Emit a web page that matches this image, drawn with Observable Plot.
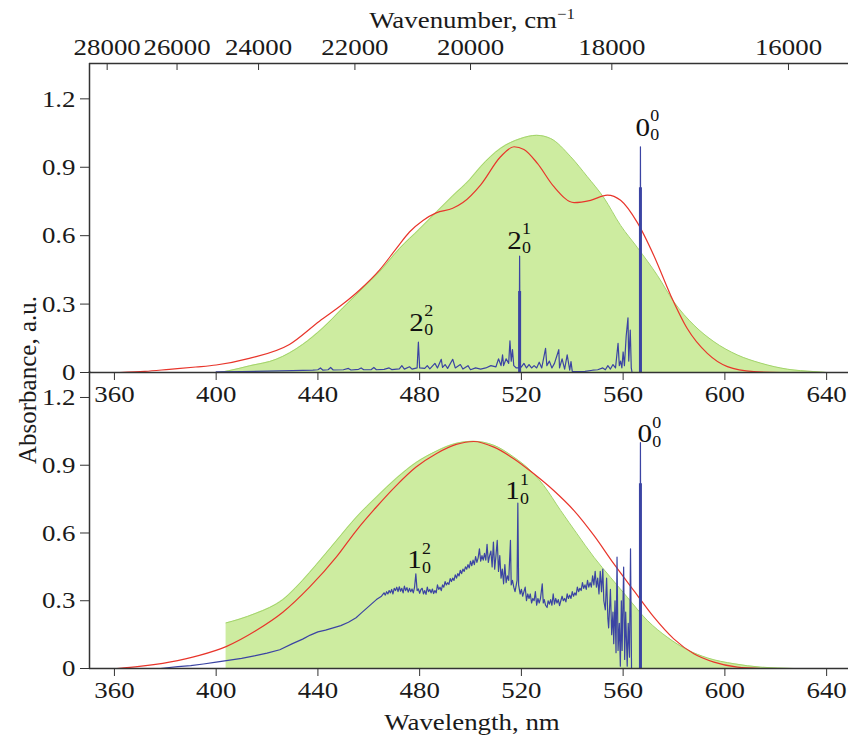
<!DOCTYPE html>
<html><head><meta charset="utf-8">
<script src="https://cdn.jsdelivr.net/npm/d3@7"></script>
<script src="https://cdn.jsdelivr.net/npm/@observablehq/plot@0.6"></script>
<style>
body{margin:0;background:#fff;}
#wrap{position:relative;width:850px;height:738px;font-family:"Liberation Serif","Times New Roman",serif;color:#1a1a1a;overflow:hidden;}
#wrap svg{position:absolute;left:0;}
.ttl{position:absolute;font-size:24px;white-space:nowrap;line-height:1;}
.ttl.v{font-size:25px;}
.ttl sup{font-size:15px;vertical-align:9px;line-height:0;}
</style></head><body><div id="wrap"></div>
<script>
// ---- tick labels ----
const wavelengthTicks = [360, 400, 440, 480, 520, 560, 600, 640];
const wavenumberTicks = [28000, 26000, 24000, 22000, 20000, 18000, 16000];
const absTicks = [0, 0.3, 0.6, 0.9, 1.2];

// ---- top panel: [wavelength nm, absorbance] ----
const topGreen = [[401,0],[405,0.008],[413,0.029],[423.6,0.058],[434,0.123],[442,0.196],[449.8,0.283],[457.7,0.37],[464.2,0.442],[472,0.543],[480,0.63],[486.5,0.703],[493,0.775],[499.6,0.845],[504,0.903],[511.8,0.983],[519.7,1.026],[526,1.04],[531.5,1.026],[539.4,0.946],[545.9,0.859],[552.5,0.765],[559,0.645],[565.6,0.548],[573.5,0.425],[580,0.309],[587.9,0.207],[595.7,0.135],[604.9,0.077],[614.1,0.041],[624.6,0.0145],[635,0.004],[640,0]];
const topRed = [[362,0],[372,0.005],[381.6,0.014],[392,0.024],[400,0.033],[413,0.062],[428.8,0.123],[440.6,0.225],[449.8,0.30],[456.4,0.362],[464.2,0.449],[470.8,0.543],[476,0.616],[481.3,0.667],[486.5,0.70],[493,0.72],[497,0.745],[504,0.823],[511.8,0.946],[517.1,0.99],[521,0.978],[526.3,0.917],[532.7,0.816],[540.7,0.745],[547.2,0.755],[553.8,0.778],[559,0.755],[565.6,0.657],[572.1,0.512],[578.7,0.338],[585.2,0.193],[593.1,0.084],[601,0.026],[611.4,0.004],[622,0]];
const topBlue = [[400,0.003],[410,0.004],[420,0.006],[430,0.008],[438,0.01],[440,0.012],[441,0.02],[442,0.01],[444,0.012],[445,0.022],[446,0.011],[450,0.012],[452,0.018],[453,0.011],[456,0.014],[457,0.02],[458,0.012],[461,0.013],[462,0.022],[463,0.012],[466,0.014],[468,0.02],[469,0.013],[472,0.016],[473,0.03],[474,0.015],[476,0.025],[477,0.015],[479,0.02],[479.5,0.133],[480,0.02],[482,0.018],[483,0.03],[484,0.016],[486,0.04],[487,0.02],[488.5,0.058],[489,0.022],[490,0.035],[491,0.018],[493,0.058],[494,0.02],[496,0.035],[497,0.015],[499,0.03],[500,0.012],[502,0.02],[504,0.015],[506,0.02],[508,0.03],[510,0.025],[511,0.06],[512,0.03],[512.6,0.077],[513,0.03],[514,0.06],[515,0.04],[515.5,0.139],[516,0.05],[516.5,0.1],[517,0.03],[518,0.02],[519.1,0.02],[519.3,0.51],[519.5,0.02],[520,0.025],[521,0.04],[522,0.02],[523,0.035],[524,0.02],[525,0.03],[526,0.02],[527,0.045],[528,0.02],[529.5,0.106],[530,0.03],[531,0.05],[532,0.02],[533,0.04],[534.7,0.1],[535,0.02],[536,0.06],[537,0.015],[538,0.077],[539,0.01],[539.5,0.048],[540,0.005],[542,0.004],[545,0.005],[548,0.01],[550,0.012],[552,0.02],[553,0.012],[554,0.03],[555,0.015],[556,0.035],[557,0.02],[558,0.128],[558.5,0.03],[559,0.05],[559.5,0.02],[560,0.09],[560.5,0.03],[561.2,0.16],[561.9,0.24],[562.2,0.05],[562.8,0.186],[563.2,0.02],[563.5,0],[566.6,0],[566.8,0.99],[567,0],[570,0]];
const topThick = [[519.3,0.355],[566.8,0.81]];
const topLabels = [
  {x: 567.7, y: 1.075, main: "0", sub: "0", sup: "0"},
  {x: 517.3, y: 0.58, main: "2", sub: "0", sup: "1"},
  {x: 478.8, y: 0.22, main: "2", sub: "0", sup: "2"}
];

// ---- bottom panel ----
const bottomGreen = [[403.9,0.202],[409,0.218],[415.7,0.245],[421,0.27],[426.2,0.305],[431,0.355],[436.7,0.425],[442,0.495],[447.2,0.565],[455.1,0.67],[462.9,0.758],[470.8,0.842],[478.6,0.912],[486.5,0.962],[494.4,0.997],[501,1.006],[509.2,0.988],[517,0.936],[524.9,0.862],[528.8,0.81],[535.4,0.70],[541.9,0.596],[548.5,0.493],[555,0.404],[561.6,0.316],[569.5,0.213],[577.3,0.139],[585.2,0.083],[593.1,0.047],[603.6,0.021],[614.1,0.006],[627,0]];
const bottomRed = [[361,0],[369.8,0.009],[381.6,0.028],[393.4,0.058],[403.9,0.097],[415.7,0.168],[426.2,0.249],[436.7,0.36],[447.2,0.493],[455.1,0.611],[462.9,0.714],[470.8,0.81],[478.6,0.892],[486.5,0.951],[494.4,0.992],[501.3,1.005],[509.2,0.98],[517,0.929],[524.9,0.862],[532.7,0.788],[540.6,0.70],[548.5,0.589],[556.3,0.464],[564.2,0.345],[572.1,0.227],[579.9,0.131],[587.8,0.065],[595.7,0.028],[604.9,0.006],[614.1,0]];
const bottomBlue = [[378,0],[385,0.008],[390,0.013],[395,0.02],[400,0.028],[404,0.035],[410,0.045],[415,0.056],[420,0.068],[425,0.083],[430,0.11],[434,0.13],[437,0.148],[440,0.162],[443,0.17],[446,0.18],[449,0.19],[452,0.205],[455,0.225],[457,0.245],[459,0.265],[461,0.285],[463,0.305],[465,0.32],[466,0.335],[466.5,0.325],[467,0.34],[467.5,0.33],[468,0.345],[468.5,0.335],[469,0.35],[469.5,0.33],[470,0.355],[470.5,0.345],[471,0.36],[471.5,0.34],[472,0.362],[472.5,0.342],[473,0.355],[473.5,0.335],[474,0.365],[474.5,0.345],[475,0.358],[475.5,0.338],[476,0.355],[476.5,0.34],[477,0.352],[477.5,0.335],[478,0.36],[478.5,0.419],[479,0.345],[479.5,0.352],[480,0.333],[480.5,0.35],[481,0.355],[481.5,0.33],[482,0.345],[482.5,0.328],[483,0.36],[483.5,0.34],[484,0.35],[484.5,0.335],[485,0.352],[485.5,0.332],[486,0.345],[486.5,0.335],[487,0.37],[487.5,0.35],[488,0.36],[488.5,0.345],[489,0.37],[489.5,0.36],[490,0.385],[490.5,0.37],[491,0.38],[491.5,0.372],[492,0.398],[492.5,0.385],[493,0.4],[493.5,0.39],[494,0.415],[494.5,0.4],[495,0.42],[495.5,0.41],[496,0.435],[496.5,0.42],[497,0.44],[497.5,0.43],[498,0.45],[498.5,0.44],[499,0.46],[499.5,0.445],[500,0.475],[500.5,0.455],[501,0.48],[501.5,0.46],[502,0.495],[502.5,0.47],[503,0.49],[503.5,0.53],[504,0.475],[504.5,0.5],[505,0.48],[505.5,0.51],[506,0.48],[506.5,0.55],[507,0.47],[507.5,0.5],[508,0.52],[508.5,0.45],[509,0.56],[509.5,0.44],[510,0.5],[510.5,0.567],[511,0.43],[511.5,0.5],[512,0.4],[512.5,0.44],[513,0.375],[513.5,0.46],[514,0.38],[514.5,0.41],[515,0.39],[515.7,0.567],[516,0.37],[516.5,0.39],[517,0.36],[517.5,0.34],[518.3,0.39],[518.6,0.732],[518.9,0.37],[519.5,0.33],[520,0.35],[520.5,0.32],[521,0.34],[521.5,0.36],[522,0.3],[522.5,0.33],[523,0.31],[523.5,0.33],[524,0.29],[524.5,0.31],[525,0.3],[525.5,0.34],[526,0.28],[526.5,0.31],[527,0.29],[527.5,0.31],[528.2,0.375],[528.6,0.29],[529,0.305],[529.5,0.28],[530.1,0.27],[530.5,0.3],[531,0.285],[531.5,0.305],[532,0.28],[532.5,0.33],[533,0.285],[533.5,0.31],[534,0.29],[534.5,0.305],[535,0.278],[535.5,0.3],[536,0.32],[536.5,0.3],[537,0.31],[537.5,0.295],[538,0.33],[538.5,0.31],[539,0.325],[539.5,0.31],[540,0.34],[540.5,0.32],[541,0.335],[541.5,0.325],[542,0.36],[542.5,0.34],[543,0.355],[543.5,0.345],[544,0.38],[544.5,0.355],[545,0.37],[545.5,0.35],[546,0.39],[546.5,0.36],[547,0.38],[547.5,0.36],[548,0.41],[548.5,0.37],[549,0.43],[549.5,0.36],[550,0.4],[550.5,0.33],[551,0.43],[551.5,0.34],[552,0.44],[552.4,0.3],[553,0.26],[553.5,0.4],[554,0.22],[554.3,0.18],[555,0.35],[555.5,0.15],[556,0.25],[556.3,0.11],[556.8,0.3],[557.2,0.07],[557.6,0.493],[558,0.08],[558.5,0.2],[558.9,0.01],[559.3,0.3],[559.6,0.08],[560.2,0.449],[560.6,0.04],[561,0.25],[561.6,0.01],[562,0.2],[562.5,0.05],[562.9,0.53],[563.3,0],[566.6,0],[566.8,1.0],[567,0]];
const bottomThick = [[566.8,0.818]];
const bottomLabels = [
  {x: 568.5, y: 1.04, main: "0", sub: "0", sup: "0"},
  {x: 516.5, y: 0.788, main: "1", sub: "0", sup: "1"},
  {x: 478, y: 0.483, main: "1", sub: "0", sup: "2"}
];

const xDomain = [350.2, 648.6];
const GREEN = "#cdeca0", GREEN_EDGE = "#a3d46c", RED = "#e8352b", BLUE = "#3b44a3", INK = "#333";
const STRETCH = 1.12; // the reference glyphs are wider than they are tall
const fmtAbs = d => d === 0 ? "0" : d.toFixed(1);
const X = d => d[0], Y = d => d[1];

function panel({height, marginTop, marginBottom, yMax, green, red, blue, thick, labels, top, leftExtend}) {
  const marks = [
    Plot.areaY(green, {x: X, y: Y, fill: GREEN, curve: "monotone-x"}),
    Plot.lineY(green, {x: X, y: Y, stroke: GREEN_EDGE, strokeWidth: 1, curve: "monotone-x"}),
    Plot.lineY(red, {x: X, y: Y, stroke: RED, strokeWidth: 1.2, curve: "monotone-x"}),
    Plot.lineY(blue, {x: X, y: Y, stroke: BLUE, strokeWidth: 1.2}),
    Plot.ruleX(thick, {x: X, y1: 0, y2: Y, stroke: BLUE, strokeWidth: 3}),
    Plot.ruleY([0], {stroke: INK, strokeWidth: 1.5}),
    Plot.ruleX([xDomain[0]], {stroke: INK, strokeWidth: 1.5, insetTop: -leftExtend}),
    Plot.axisY({ticks: absTicks, tickSize: 9, tickPadding: 5, tickFormat: fmtAbs, label: null, stroke: INK, fontSize: 24}),
    Plot.axisX({ticks: wavelengthTicks, tickSize: 8, tickPadding: 4, label: null, stroke: INK, fontSize: 24}),
    Plot.text(labels, {x: "x", y: "y", text: "main", fontSize: 26, fill: "#111"}),
    Plot.text(labels, {x: "x", y: "y", text: "sup", fontSize: 16, dx: 12, dy: -11, fill: "#111"}),
    Plot.text(labels, {x: "x", y: "y", text: "sub", fontSize: 16, dx: 12, dy: 8, fill: "#111"})
  ];
  if (top) {
    const wn = wavenumberTicks.map(w => 1e7 / w);
    marks.push(
      Plot.ruleY([yMax], {stroke: INK, strokeWidth: 1.5}),
      Plot.ruleX(wn, {stroke: INK, strokeWidth: 1, insetBottom: height - marginTop - marginBottom - 7}),
      Plot.axisX(wn, {anchor: "top", tickSize: 0, tickPadding: 9, fontSize: 24, tickFormat: d => String(Math.round(1e7 / d)), label: null})
    );
  }
  const svg = Plot.plot({
    width: 850, height, marginTop, marginBottom, marginLeft: 89, marginRight: 2,
    x: {domain: xDomain},
    y: {domain: [0, yMax]},
    style: {fontFamily: "'Liberation Serif', 'Times New Roman', serif", fontSize: "24px", background: "transparent", color: "#1a1a1a", overflow: "visible"},
    marks
  });
  // widen glyphs about their own anchor point
  svg.querySelectorAll("text").forEach(t => {
    const tr = t.getAttribute("transform") || "";
    t.setAttribute("transform", tr + ` scale(${STRETCH},1)`);
  });
  return svg;
}

const wrap = document.getElementById("wrap");
const bottom = panel({height: 363, marginTop: 10, marginBottom: 70, yMax: 1.253, green: bottomGreen, red: bottomRed, blue: bottomBlue, thick: bottomThick, labels: bottomLabels, top: false, leftExtend: 14});
bottom.style.top = "375px";
wrap.appendChild(bottom);
const topP = panel({height: 410, marginTop: 63, marginBottom: 38, yMax: 1.355, green: topGreen, red: topRed, blue: topBlue, thick: topThick, labels: topLabels, top: true, leftExtend: 0});
topP.style.top = "0px";
wrap.appendChild(topP);

function title(html, left, top, rotate) {
  const d = document.createElement("div");
  d.className = rotate ? "ttl v" : "ttl";
  d.innerHTML = html;
  d.style.left = left + "px";
  d.style.top = top + "px";
  d.style.transform = rotate ? "translate(-50%,-50%) rotate(-90deg)" : `translate(-50%,-50%) scaleX(${STRETCH})`;
  wrap.appendChild(d);
}
title("Wavenumber, cm<sup>−1</sup>", 472, 20, false);
title("Wavelength, nm", 472, 722, false);
title("Absorbance, a.u.", 27, 380, true);
</script></body></html>
